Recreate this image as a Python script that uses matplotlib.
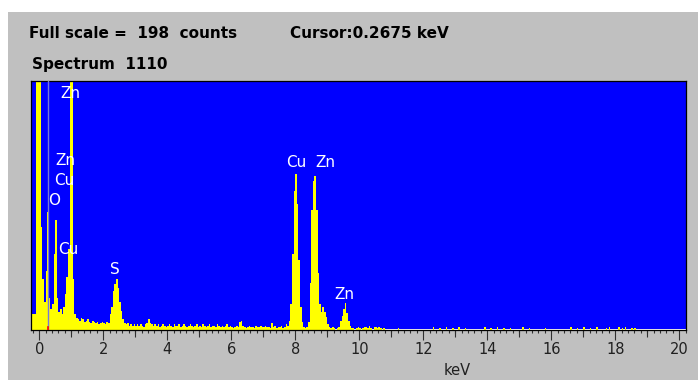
import numpy as np
import matplotlib.pyplot as plt
from matplotlib.patches import Rectangle
from matplotlib.ticker import MultipleLocator

# EDS spectrum
full_scale = 198
cursor_kev = 0.2675
spectrum_id = 1110

# channels are 0.05 keV wide, first one starts at -0.25 keV
chan_start = -0.25
chan_width = 0.05
counts = [
    12, 12, 12, 300, 300,                        # -0.25 .. 0.0
    300, 82, 40, 22, 47, 94, 25, 16, 20, 60,     # 0.0 .. 0.5
    87, 25, 14, 16, 12, 18, 28, 42, 64, 300,     # 0.5 .. 1.0
    300, 40, 12, 9, 8, 7, 9, 8, 6, 7,            # 1.0 .. 1.5
    8, 6, 5, 7, 6, 5, 6, 4, 5, 6,                # 1.5 .. 2.0
    5, 4, 6, 5, 12, 18, 31, 36, 40, 33,          # 2.0 .. 2.5
    22, 15, 8, 5, 4, 5, 3, 4, 3, 4,              # 2.5 .. 3.0
    3, 4, 3, 4, 3, 2, 4, 5, 8, 5,                # 3.0 .. 3.5
    4, 3, 4, 3, 4, 2, 3, 4, 3, 2,                # 3.5 .. 4.0
    3, 4, 3, 2, 4, 3, 3, 4, 2, 3,                # 4.0 .. 4.5
    4, 3, 2, 3, 4, 3, 2, 3, 4, 2,                # 4.5 .. 5.0
    3, 2, 4, 3, 2, 3, 4, 2, 3, 3,                # 5.0 .. 5.5
    2, 4, 3, 2, 3, 2, 3, 4, 2, 3,                # 5.5 .. 6.0
    2, 1, 2, 3, 2, 6, 7, 3, 2, 1,                # 6.0 .. 6.5
    2, 3, 2, 2, 1, 3, 2, 2, 3, 2,                # 6.5 .. 7.0
    2, 3, 2, 2, 1, 5, 2, 3, 1, 2,                # 7.0 .. 7.5
    2, 3, 1, 2, 4, 3, 7, 20, 60, 110,            # 7.5 .. 8.0
    124, 100, 55, 18, 6, 2, 1, 2, 6, 37,         # 8.0 .. 8.5
    95, 118, 122, 95, 45, 20, 14, 18, 14, 10,    # 8.5 .. 9.0
    4, 2, 1, 2, 1, 0, 1, 2, 7, 11,               # 9.0 .. 9.5
    16, 21, 13, 7, 3, 1, 1, 0, 1, 2,             # 9.5 .. 10.0
    1, 0, 1, 2, 2, 1, 3, 1, 0, 2,                # 10.0 .. 10.5
    2, 1, 2, 1, 0, 1, 0, 0, 0, 0,                # 10.5 .. 11.0
]

# scattered single counts above 11 keV
tail_kev = [11.2, 12.3, 12.5, 12.7, 12.9, 13.1, 13.3, 13.9, 14.1, 14.3, 14.5,
            14.7, 15.1, 15.3, 15.8, 16.6, 16.8, 17.0, 17.2, 17.4, 17.7, 17.8,
            18.1, 18.2, 18.3, 18.5, 18.6]
tail_counts = [1, 2, 1, 2, 1, 2, 1, 2, 1, 2, 1, 1, 2, 1, 1, 2, 1, 2, 1, 2, 1,
               2, 2, 1, 2, 1, 1]

# peak labels: element, keV, counts (label position)
peak_names = ['Zn', 'Zn', 'Cu', 'O', 'Cu', 'S', 'Cu', 'Zn', 'Zn']
peak_kev = [0.96, 0.83, 0.77, 0.475, 0.90, 2.35, 8.04, 8.94, 9.54]
peak_cts = [188, 135, 119, 103, 64, 48, 133, 133, 28]

W, H = 698, 380
fig = plt.figure(figsize=(W / 100, H / 100), dpi=100, facecolor='white')
fig.patches.append(Rectangle((8 / W, 0), 1, (H - 12) / H, transform=fig.transFigure,
                             facecolor='#c0c0c0', edgecolor='none', zorder=-10))

ax = fig.add_axes([31.3 / W, (H - 329.5) / H, (686 - 31.3) / W, (329.5 - 81) / H])
ax.set_facecolor('#0000ff')

edges = chan_start + chan_width * np.arange(len(counts) + 1)
ax.stairs(counts, edges, fill=True, color='#ffff00', linewidth=0)
ax.bar(tail_kev, tail_counts, width=chan_width, align='edge', color='#ffff00', linewidth=0)

# cursor
ax.axvline(cursor_kev, color='#7878d8', linewidth=1, zorder=3)
ax.plot([cursor_kev, cursor_kev], [0, 2], color='red', linewidth=1.2, zorder=4)

for name, xk, yc in zip(peak_names, peak_kev, peak_cts):
    ax.text(xk, yc, name, color='white', fontsize=11, ha='center', va='center')

ax.set_xlim(-0.25, 20.21)
ax.set_ylim(0, full_scale)
ax.set_yticks([])
ax.xaxis.set_major_locator(MultipleLocator(2))
ax.xaxis.set_minor_locator(MultipleLocator(0.2))
ax.tick_params(axis='x', which='major', length=7.2, width=0.8, color='#303030',
               labelsize=10.5, labelcolor='#202020', pad=1.5)
ax.tick_params(axis='x', which='minor', length=2.4, width=0.8, color='#303030')
for s in ax.spines.values():
    s.set_color('black')
    s.set_linewidth(0.9)

# 1 keV ticks, a bit longer than the minor ones
sec = ax.secondary_xaxis('bottom')
sec.set_xticks(np.arange(1, 20, 2))
sec.tick_params(length=4.8, width=0.8, color='#303030', labelbottom=False)
sec.spines['bottom'].set_visible(False)

fig.text(29 / W, (H - 34) / H, f'Full scale =  {full_scale}  counts',
         fontsize=11, fontweight='bold', va='center')
fig.text(290 / W, (H - 34) / H, f'Cursor:{cursor_kev} keV',
         fontsize=11, fontweight='bold', va='center')
fig.text(32 / W, (H - 64) / H, f'Spectrum  {spectrum_id}',
         fontsize=11, fontweight='bold', va='center')
fig.text(457 / W, (H - 363) / H, 'keV', fontsize=10.5, color='#202020',
         ha='center', va='top')

fig.savefig('out.png', dpi=100, facecolor=fig.get_facecolor())
